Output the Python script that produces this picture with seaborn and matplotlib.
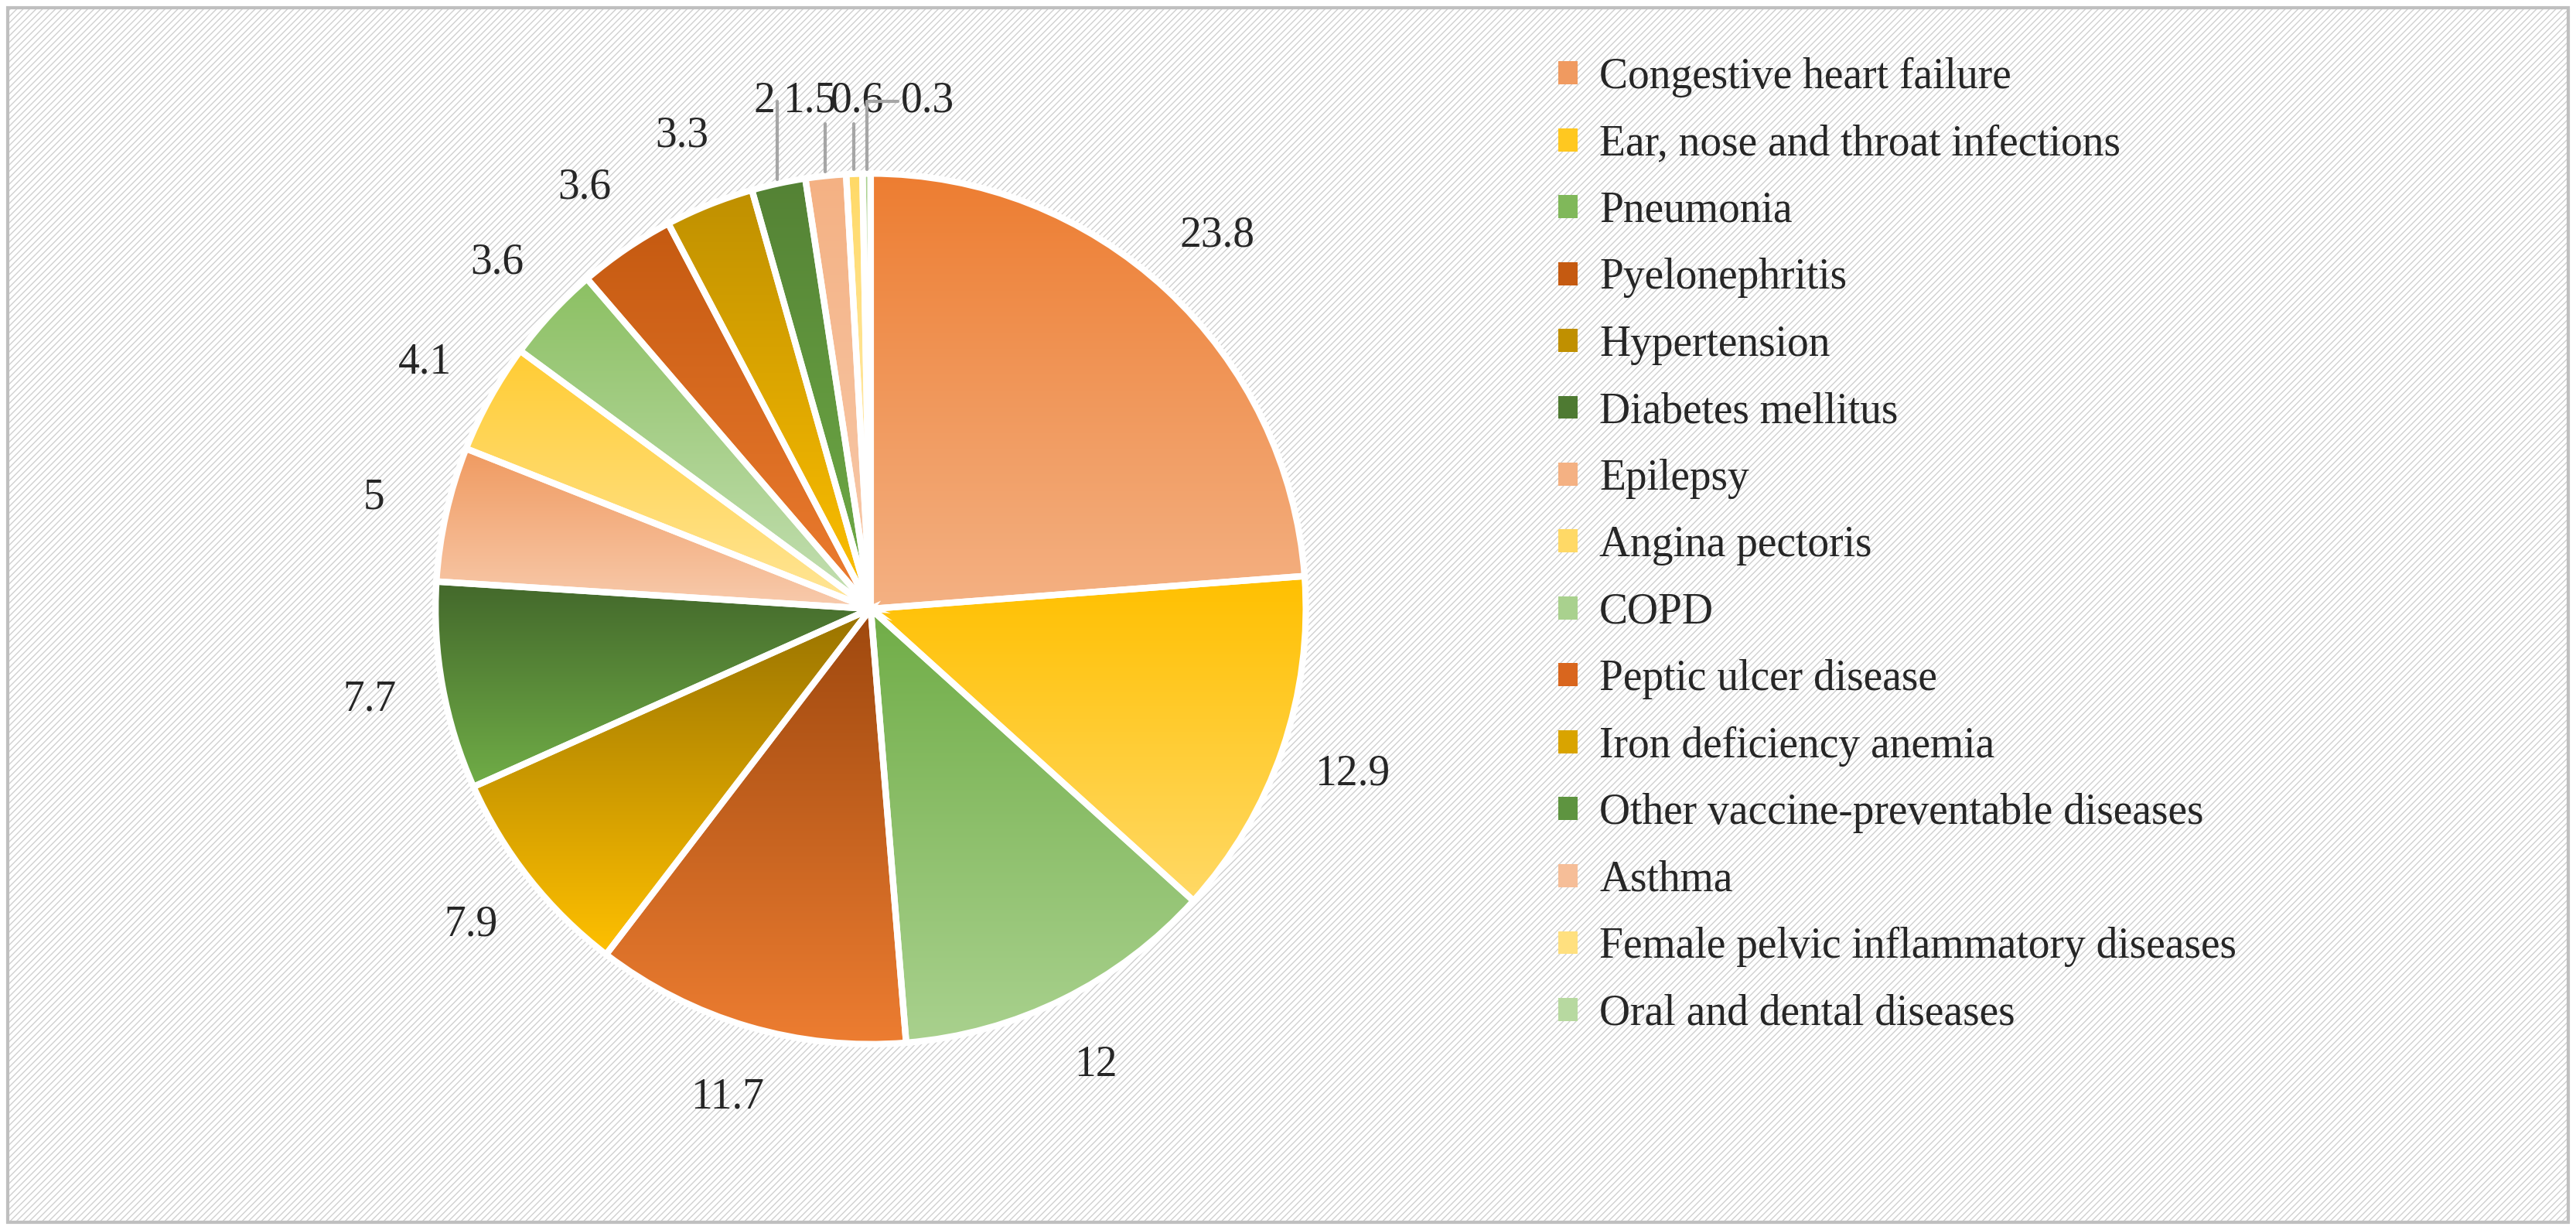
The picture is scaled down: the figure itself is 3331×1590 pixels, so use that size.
import numpy as np
import matplotlib
matplotlib.use("Agg")
import matplotlib.pyplot as plt
import seaborn as sns
from matplotlib.patches import Rectangle, Patch
import matplotlib.colors as mcolors

sns.set_theme(style="white")
plt.rcParams['font.family'] = ['Liberation Serif', 'DejaVu Serif']
plt.rcParams['hatch.color'] = "#E2E2E2"

categories = ["Congestive heart failure", "Ear, nose and throat infections", "Pneumonia",
              "Pyelonephritis", "Hypertension", "Diabetes mellitus", "Epilepsy",
              "Angina pectoris", "COPD", "Peptic ulcer disease", "Iron deficiency anemia",
              "Other vaccine-preventable diseases", "Asthma",
              "Female pelvic inflammatory diseases", "Oral and dental diseases"]
values = [23.8, 12.9, 12, 11.7, 7.9, 7.7, 5, 4.1, 3.6, 3.6, 3.3, 2, 1.5, 0.6, 0.3]
top_colors = ["#ED7D31", "#FFC000", "#70AD47", "#9E480E", "#997300", "#43682B",
              "#F09A60", "#FFCC33", "#8CC063", "#C55A11", "#BF9000", "#548235",
              "#F4B183", "#FFD966", "#A9D18E"]
bot_colors = ["#F4B183", "#FFD966", "#A9D18E", "#ED7D31", "#FFC000", "#70AD47",
              "#F8CBAD", "#FFE699", "#C5E0B4", "#ED7D31", "#FFC000", "#70AD47",
              "#F8CBAD", "#FFF2CC", "#E2F0D9"]
legend_colors = ["#F09A60", "#FFC820", "#80B85A", "#C55A11", "#C09000", "#4E7A32",
                 "#F4B183", "#FFD966", "#A9D18E", "#D9661E", "#D9A400", "#5E9440",
                 "#F6BE98", "#FFE07F", "#B7D9A0"]

W, H = 3331, 1590
fig = plt.figure(figsize=(W/100, H/100), dpi=100)
bg = fig.add_axes([0, 0, 1, 1]); bg.set_axis_off()
bg.set_xlim(0, 1); bg.set_ylim(0, 1)
bg.add_patch(Rectangle((0.003, 0.006), 0.994, 0.988, facecolor="white",
                       edgecolor="#D0D0D0", hatch="////", linewidth=0))
bg.add_patch(Rectangle((0.003, 0.006), 0.994, 0.988, facecolor="none",
                       edgecolor="#BFBFBF", linewidth=3))

h = 0.86
w = h * H / W
cx, cy = 0.338, 0.505
ax = fig.add_axes([cx - w/2, cy - h/2, w, h])
wedges, _ = ax.pie(values, startangle=90, counterclock=False, radius=1,
                   wedgeprops=dict(edgecolor="white", linewidth=6))
ax.set_aspect("equal")
ax.set_axis_off()

grad = np.linspace(0, 1, 256).reshape(-1, 1)
for wdg, tc, bc in zip(wedges, top_colors, bot_colors):
    cmap = mcolors.LinearSegmentedColormap.from_list("g", [tc, bc])
    th = np.deg2rad(np.linspace(wdg.theta1, wdg.theta2, 50))
    ys = np.concatenate([[0], np.sin(th)])
    y0, y1 = ys.min(), ys.max()
    wdg.set_facecolor("none")
    im = ax.imshow(grad, cmap=cmap, extent=[-1, 1, y0, y1], aspect="auto",
                   origin="upper", zorder=0.5)
    im.set_clip_path(wdg)
    wdg.set_zorder(1)
ax.set_xlim(-1.215, 1.215); ax.set_ylim(-1.215, 1.215)

fs = 40
small_pos = {11: (-0.245, 1.12), 12: (-0.14, 1.12), 13: (-0.03, 1.12), 14: (0.13, 1.12)}
for i, (wdg, v) in enumerate(zip(wedges, values)):
    ang = np.deg2rad((wdg.theta1 + wdg.theta2) / 2)
    lab = f"{v:g}"
    if i in small_pos:
        tx, ty = small_pos[i]
        ex, ey = 1.01*np.cos(ang), 1.01*np.sin(ang)
        ax.annotate(lab, xy=(ex, ey), xytext=(tx, ty), fontsize=fs, ha="center",
                    va="bottom",
                    arrowprops=dict(arrowstyle="-", color="#A6A6A6", lw=3,
                                    shrinkA=0, shrinkB=0,
                                    connectionstyle="angle,angleA=0,angleB=90,rad=0"))
    else:
        r = 1.17
        ax.text(r*np.cos(ang), r*np.sin(ang), lab, fontsize=fs, ha="center", va="center")

handles = [Patch(facecolor=c, edgecolor="none") for c in legend_colors]
fig.legend(handles, categories, loc="upper left", bbox_to_anchor=(0.59, 0.985),
           frameon=False, fontsize=fs, handlelength=0.45, handleheight=0.45,
           handletextpad=0.5, labelspacing=0.62)
fig.savefig("out.png", dpi=100)
